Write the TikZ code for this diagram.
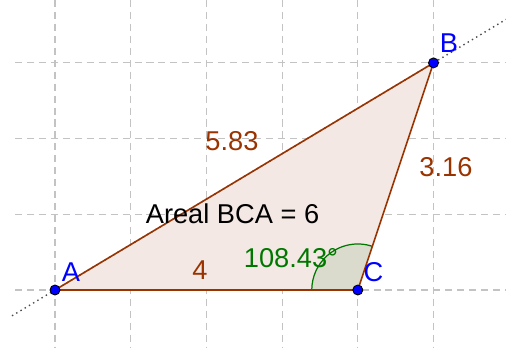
\documentclass[tikz,border=0pt]{standalone}
\usepackage{fontspec}
\setmainfont{Liberation Sans}
\definecolor{ggbrown}{RGB}{153,51,0}
\definecolor{ggblue}{RGB}{0,0,255}
\definecolor{gggreen}{RGB}{0,120,0}
\definecolor{gggrid}{RGB}{195,195,195}
\definecolor{ggfill}{RGB}{243,232,228}
\definecolor{ggangle}{RGB}{218,218,205}
\tikzset{
    gridline/.style={gggrid, line width=0.6pt, dash pattern=on 4pt off 2.8pt},
    edge/.style={ggbrown, line width=0.9pt},
    pt/.style={circle, fill=ggblue, draw=black, line width=0.5pt, inner sep=0pt, minimum size=0.2cm},
    ptlabel/.style={ggblue, anchor=base},
    lenlabel/.style={ggbrown, anchor=base}
}
\begin{document}
\begin{tikzpicture}[x=1.514cm, y=1.514cm, font=\fontsize{15.5pt}{18pt}\selectfont]
    \useasboundingbox (-0.7266,-0.7530) rectangle (5.9577,3.8309);

    % grid of the drawing pad
    \foreach \i in {0,...,5}
        \draw[gridline] (\i,3.8309) -- (\i,-0.7530);
    \foreach \j in {0,...,3}
        \draw[gridline] (-0.528,\j) -- (5.9577,\j);

    \coordinate (A) at (0,0);
    \coordinate (B) at (5,3);
    \coordinate (C) at (4,0);

    % polygon and its angle at C
    \fill[ggfill] (A) -- (B) -- (C) -- cycle;
    \fill[ggangle] (C) -- ++(71.57:0.608) arc (71.57:180:0.608) -- cycle;
    \draw[gggreen, line width=0.7pt] (C) ++(71.57:0.608) arc (71.57:180:0.608);

    % line AB
    \coordinate (lineL) at (-0.568,-0.341);
    \coordinate (lineR) at (5.9577,3.5746);
    \draw[black!70, line width=0.8pt, dotted] (lineL) -- (lineR);

    \draw[edge] (A) -- (B);
    \draw[edge] (B) -- (C);
    \draw[edge] (C) -- (A);

    \node[pt] (dotA) at (A) {};
    \node[pt] (dotB) at (B) {};
    \node[pt] (dotC) at (C) {};

    \node[ptlabel] (labA) at (0.211,0.106) {A};
    \node[ptlabel] (labB) at (5.205,3.131) {B};
    \node[ptlabel] (labC) at (4.207,0.106) {C};

    \node[lenlabel] (lenAB) at (2.338,1.849) {5.83};
    \node[lenlabel] (lenBC) at (5.165,1.493) {3.16};
    \node[lenlabel] (lenCA) at (1.915,0.141) {4};

    \node[anchor=base] (area) at (2.345,0.872) {Areal BCA = 6};
    \node[gggreen, anchor=base] (angC) at (3.118,0.300) {108.43°};
\end{tikzpicture}
\end{document}
